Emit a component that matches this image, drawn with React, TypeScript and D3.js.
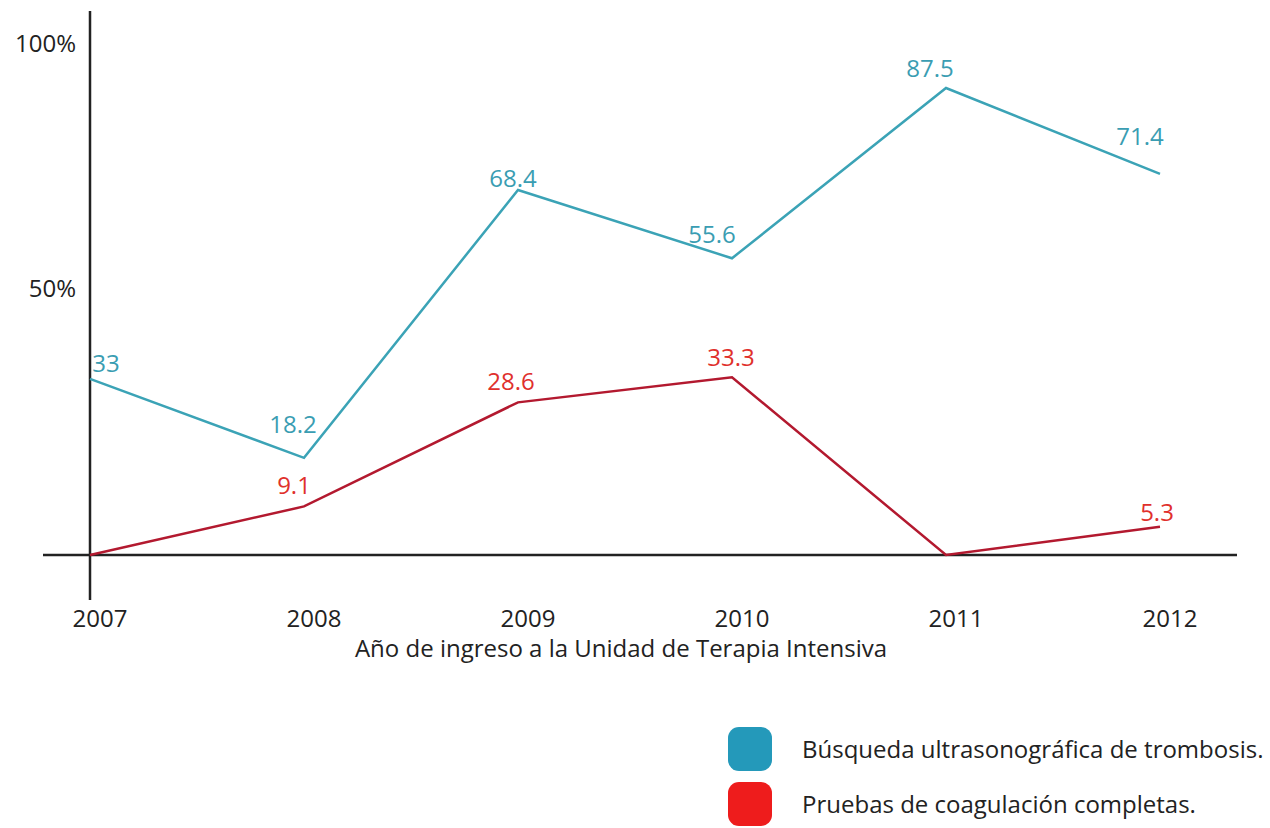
import React from "react";
import * as d3 from "d3";

const years = ["2007", "2008", "2009", "2010", "2011", "2012"];
const ultrasoundValues = [33, 18.2, 68.4, 55.6, 87.5, 71.4];
const ultrasoundLabels = ["33", "18.2", "68.4", "55.6", "87.5", "71.4"];
const coagValues = [0, 9.1, 28.6, 33.3, 0, 5.3];
const coagLabels = ["", "9.1", "28.6", "33.3", "", "5.3"];
const yTicks = [50, 100];
const seriesNames = [
  "Búsqueda ultrasonográfica de trombosis.",
  "Pruebas de coagulación completas.",
];

// label offsets (dx, dy) relative to point
const ultraOffsets = [[16, -7], [-11, -25], [-5, -3], [-20, -15], [-16, -11], [-20, -29]];
const coagOffsets = [[0, 0], [-10, -12], [-7, -12], [-1, -11], [0, 0], [-3, -6]];

const FONT = "'Open Sans', 'Noto Sans', sans-serif";
const TEAL = "#3ba3b6";
const TEAL_TEXT = "#3a9db2";
const DARKRED = "#b3192f";
const RED_TEXT = "#e0302c";

export default function App() {
  const W = 1270, H = 828;
  const x = d3.scalePoint<string>().domain(years).range([90, 1160]);
  const y = d3.scaleLinear().domain([0, 87.5]).range([555, 88]);
  const line = d3.line<number>().x((_, i) => x(years[i])!).y((v) => y(v));

  return (
    <svg width={W} height={H} style={{ position: "absolute", left: 0, top: 0, background: "#fff" }} fontFamily={FONT}>
      {/* axes */}
      <line x1={90} x2={90} y1={11} y2={600} stroke="#222" strokeWidth={2.5} />
      <line x1={43} x2={1237} y1={y(0)} y2={y(0)} stroke="#222" strokeWidth={2.5} />
      {yTicks.map((t) => (
        <text key={t} x={76} y={y(t) + (t === 100 ? 24 : 2)} textAnchor="end" dominantBaseline="middle" fontSize={24} fill="#222">
          {t}%
        </text>
      ))}
      {years.map((yr) => (
        <text key={yr} x={x(yr)! + 10} y={627} textAnchor="middle" fontSize={24} fill="#222">
          {yr}
        </text>
      ))}
      <text x={621} y={657} textAnchor="middle" fontSize={24} fill="#222">
        Año de ingreso a la Unidad de Terapia Intensiva
      </text>

      {/* lines */}
      <path d={line(ultrasoundValues)!} fill="none" stroke={TEAL} strokeWidth={2.5} strokeLinejoin="miter" />
      <path d={line(coagValues)!} fill="none" stroke={DARKRED} strokeWidth={2.5} />

      {ultrasoundValues.map((v, i) => (
        <text key={"u" + i} x={x(years[i])! + ultraOffsets[i][0]} y={y(v) + ultraOffsets[i][1]} textAnchor="middle" fontSize={24} fill={TEAL_TEXT}>
          {ultrasoundLabels[i]}
        </text>
      ))}
      {coagValues.map((v, i) =>
        coagLabels[i] ? (
          <text key={"c" + i} x={x(years[i])! + coagOffsets[i][0]} y={y(v) + coagOffsets[i][1]} textAnchor="middle" fontSize={24} fill={RED_TEXT}>
            {coagLabels[i]}
          </text>
        ) : null
      )}

      {/* legend */}
      {seriesNames.map((name, i) => (
        <g key={name} transform={`translate(728, ${727 + i * 55})`}>
          <rect width={44} height={44} rx={11} fill={i === 0 ? "#2499ba" : "#ee1c1c"} />
          <text x={74} y={31} fontSize={24} fill="#222">
            {name}
          </text>
        </g>
      ))}
    </svg>
  );
}
